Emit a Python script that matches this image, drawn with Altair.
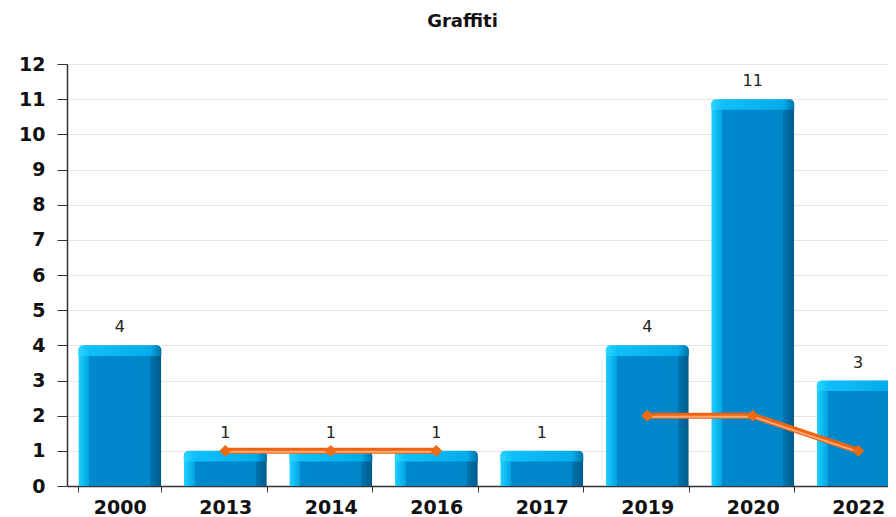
import altair as alt
import pandas as pd

years = ["2000", "2013", "2014", "2016", "2017", "2019", "2020", "2022"]
bar_values = [4, 1, 1, 1, 1, 4, 11, 3]
line_values = [None, 1, 1, 1, None, 2, 2, 1]
line_segment = [None, "a", "a", "a", None, "b", "b", "b"]
y_ticks = list(range(0, 13))

df = pd.DataFrame({"year": years, "v": bar_values, "lv": line_values, "seg": line_segment})
ldf = df.dropna(subset=["lv"])

FONT = "DejaVu Sans"

x_axis = alt.Axis(labelAngle=0, tickBand="extent", tickSize=6, labelPadding=6,
                  labelFont=FONT, labelFontSize=19, labelFontWeight="bold",
                  labelColor="#111", domainColor="#333", tickColor="#333",
                  domainWidth=1.5, grid=False, title=None)
y_axis = alt.Axis(values=y_ticks, tickSize=10, labelPadding=12, labelOverlap=False,
                  labelFont=FONT, labelFontSize=19, labelFontWeight="bold",
                  labelColor="#111", domainColor="#333", tickColor="#333",
                  domainWidth=1.5, gridColor="#e6e6e6", gridWidth=1.2, title=None)
x_scale = alt.Scale(paddingInner=0.213, paddingOuter=0.107, range=[0, 844])
y_scale = alt.Scale(domain=[0, 12], nice=False)

x = alt.X("year:N", sort=years, scale=x_scale, axis=x_axis)
yv = alt.Y("v:Q", scale=y_scale, axis=y_axis)
yl = alt.Y("lv:Q", scale=y_scale, axis=y_axis)

side_grad = alt.Gradient(
    gradient="linear", x1=0, x2=1, y1=0, y2=0,
    stops=[alt.GradientStop(offset=0, color="#22d0ff"),
           alt.GradientStop(offset=0.13, color="#00a4e2"),
           alt.GradientStop(offset=0.135, color="#0088cc"),
           alt.GradientStop(offset=0.865, color="#0087ca"),
           alt.GradientStop(offset=0.87, color="#0074ae"),
           alt.GradientStop(offset=1, color="#005a8a")])
top_grad = alt.Gradient(
    gradient="linear", x1=0, x2=1, y1=0, y2=0,
    stops=[alt.GradientStop(offset=0, color="#30d6ff"),
           alt.GradientStop(offset=0.13, color="#10c0fa"),
           alt.GradientStop(offset=0.87, color="#04acea"),
           alt.GradientStop(offset=1, color="#0072a8")])

base = alt.Chart(df)
bars = base.mark_bar(color=side_grad, cornerRadiusTopLeft=5, cornerRadiusTopRight=5).encode(x=x, y=yv)
bevel = base.transform_calculate(vt="datum.v - 0.3").mark_bar(
    color=top_grad, cornerRadiusTopLeft=5, cornerRadiusTopRight=5).encode(
    x=x, y=yv, y2="vt:Q")
labels = base.mark_text(baseline="bottom", dy=-10, font=FONT, fontSize=16, color="#222").encode(
    x=x, y=yv, text="v:Q")

lbase = alt.Chart(ldf)
line_outer = lbase.mark_line(color="#f06410", strokeWidth=6).encode(x=x, y=yl, detail="seg:N")
line_inner = lbase.mark_line(color="#ffa878", strokeWidth=2, yOffset=1).encode(x=x, y=yl, detail="seg:N")
pts = lbase.mark_point(shape="diamond", filled=True, size=140, color="#f26a10", opacity=1).encode(x=x, y=yl)

chart = alt.layer(bars, bevel, labels, line_outer, line_inner, pts).properties(
    width=821, height=422,
    autosize=alt.AutoSizeParams(type="none"),
    title=alt.TitleParams("Graffiti", font=FONT, fontSize=18, fontWeight="bold",
                          color="#111", anchor="middle", frame="group", offset=24, dx=-15),
    padding={"left": 59, "top": 56, "right": 0, "bottom": 38},
).configure_view(stroke=None)

chart.save("out.html", embed_options={"renderer": "svg", "actions": False})
